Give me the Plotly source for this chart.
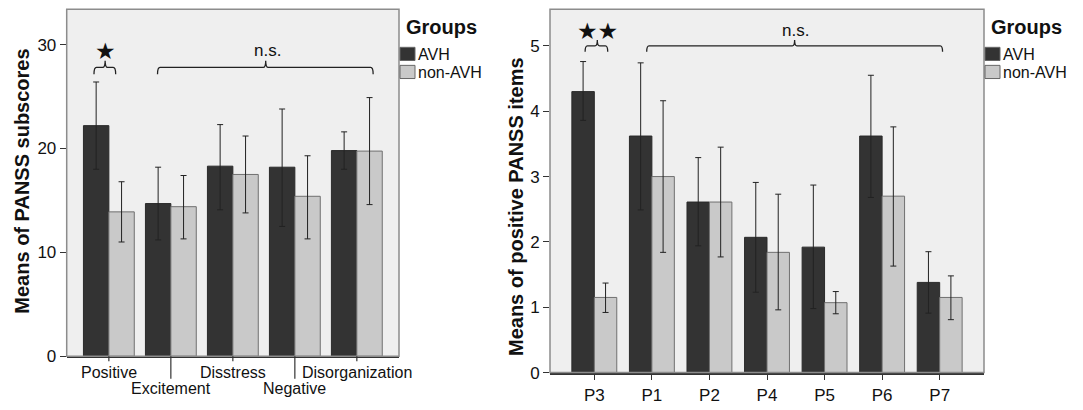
import plotly.graph_objects as go

# ---------------- data ----------------
subscales = ["Positive", "Excitement", "Disstress", "Negative", "Disorganization"]
sub_avh = [22.2, 14.7, 18.3, 18.2, 19.8]
sub_avh_hi = [26.4, 18.2, 22.3, 23.8, 21.6]
sub_avh_lo = [18.0, 11.2, 14.1, 12.5, 18.0]
sub_non = [13.9, 14.4, 17.5, 15.4, 19.75]
sub_non_hi = [16.8, 17.4, 21.2, 19.3, 24.9]
sub_non_lo = [11.0, 11.3, 13.8, 11.3, 14.6]

items = ["P3", "P1", "P2", "P4", "P5", "P6", "P7"]
item_avh = [4.30, 3.62, 2.61, 2.07, 1.92, 3.62, 1.38]
item_avh_hi = [4.76, 4.74, 3.29, 2.91, 2.87, 4.55, 1.85]
item_avh_lo = [3.86, 2.49, 1.94, 1.23, 0.98, 2.68, 0.91]
item_non = [1.15, 3.00, 2.61, 1.84, 1.07, 2.70, 1.15]
item_non_hi = [1.37, 4.16, 3.45, 2.73, 1.24, 3.76, 1.48]
item_non_lo = [0.92, 1.84, 1.77, 0.96, 0.90, 1.63, 0.81]

groups = ["AVH", "non-AVH"]

# ---------------- style ----------------
W, H = 1083, 410
OFF = 8  # page body margin
DARK = "#333333"
LIGHT = "#c9c9c9"
BG = "#efefef"
FRAME = "#8c8c8c"
FONT = "Liberation Sans, Arial, sans-serif"


def px(x):
    return (x - OFF) / W


def py(y):
    return (H - (y - OFF)) / H


fig = go.Figure()


def add_pair(xaxis, yaxis, cats, a, ahi, alo, n, nhi, nlo, width):
    xs = list(range(len(cats)))
    for vals, hi, lo, col, lcol, off, name in [
        (a, ahi, alo, DARK, "#2a2a2a", -width, groups[0]),
        (n, nhi, nlo, LIGHT, "#707070", 0.0, groups[1]),
    ]:
        fig.add_trace(go.Bar(
            x=xs, y=vals, name=name, width=width, offset=off,
            xaxis=xaxis, yaxis=yaxis, showlegend=False,
            marker=dict(color=col, line=dict(color=lcol, width=1)),
            error_y=dict(type="data", symmetric=False,
                         array=[h - v for h, v in zip(hi, vals)],
                         arrayminus=[v - l for v, l in zip(vals, lo)],
                         color="#222222", thickness=1, width=3),
        ))


add_pair("x", "y", subscales, sub_avh, sub_avh_hi, sub_avh_lo,
         sub_non, sub_non_hi, sub_non_lo, 0.41)
add_pair("x2", "y2", items, item_avh, item_avh_hi, item_avh_lo,
         item_non, item_non_hi, item_non_lo, 0.39)

# plot area geometry (page pixels)
L1, R1, T1, B1 = 66.7, 399.0, 9.3, 365.0
L2, R2, T2, B2 = 550.0, 984.0, 9.3, 381.7

tickfont = dict(family=FONT, size=17, color="#111111")
fig.update_layout(
    width=W, height=H,
    margin=dict(l=0, r=0, t=0, b=0),
    paper_bgcolor="white", plot_bgcolor=BG,
    barmode="overlay",
    font=dict(family=FONT, color="#111111"),
    xaxis=dict(domain=[px(L1), px(R1)], range=[-0.68, 4.68], anchor="y",
               tickvals=list(range(len(subscales))), showticklabels=False,
               ticks="", showline=True, linecolor="#333333", linewidth=1.5,
               showgrid=False, zeroline=False, fixedrange=True),
    yaxis=dict(domain=[py(B1), py(T1)], range=[0, 33.4], anchor="x",
               tickvals=[0, 10, 20, 30], ticks="outside", ticklen=6,
               tickcolor="#333333", tickfont=tickfont, showgrid=False,
               zeroline=False, showline=False, fixedrange=True),
    xaxis2=dict(domain=[px(L2), px(R2)], range=[-0.77, 6.77], anchor="y2",
                tickvals=list(range(len(items))), ticktext=items,
                ticks="outside", ticklen=6, tickcolor="#333333",
                tickfont=tickfont, showline=True, linecolor="#333333",
                linewidth=1.5, showgrid=False, zeroline=False, fixedrange=True),
    yaxis2=dict(domain=[py(B2), py(T2)], range=[0, 5.56], anchor="x2",
                tickvals=[0, 1, 2, 3, 4, 5], ticks="outside", ticklen=6,
                tickcolor="#333333", tickfont=tickfont, showgrid=False,
                zeroline=False, showline=False, fixedrange=True),
)

shapes = []
annotations = []

# frames around plot areas
for (l, r, t, b) in [(L1, R1, T1, B1), (L2, R2, T2, B2)]:
    shapes.append(dict(type="rect", xref="paper", yref="paper",
                       x0=px(l), x1=px(r), y0=py(b), y1=py(t),
                       line=dict(color=FRAME, width=1.5), layer="above"))

# left x tick marks + staggered labels
for i, c in enumerate(subscales):
    low = (i % 2 == 1)
    shapes.append(dict(type="line", xref="x", yref="paper", x0=i, x1=i,
                       y0=py(B1), y1=py(388 if low else 370),
                       line=dict(color="#333333", width=1.2)))
    annotations.append(dict(xref="x", yref="paper", x=i,
                            y=py(398.5 if low else 381.5), text=c,
                            showarrow=False, xanchor="center", yanchor="middle",
                            font=dict(family=FONT, size=16, color="#111111")))


def brace(xref, yref, x0, x1, xc, yb, yh, yt, r):
    d = (f"M {x0} {yb} Q {x0} {yh} {x0 + r} {yh} L {xc - r} {yh} "
         f"Q {xc} {yh} {xc} {yt} Q {xc} {yh} {xc + r} {yh} "
         f"L {x1 - r} {yh} Q {x1} {yh} {x1} {yb}")
    return dict(type="path", xref=xref, yref=yref, path=d,
                line=dict(color="#222222", width=1.3))


shapes.append(brace("x", "y", -0.24, 0.11, -0.06, 27.15, 27.8, 28.45, 0.04))
shapes.append(brace("x", "y", 0.785, 4.263, 2.53, 27.15, 27.8, 28.45, 0.04))
shapes.append(brace("x2", "y2", -0.16, 0.233, 0.052, 4.91, 5.0, 5.09, 0.04))
shapes.append(brace("x2", "y2", 0.91, 6.05, 3.48, 4.91, 5.0, 5.09, 0.04))

sig = [("x", "y", -0.05, 29.35, "★"), ("x", "y", 2.56, 29.45, "n.s."),
       ("x2", "y2", 0.047, 5.23, "★★"), ("x2", "y2", 3.5, 5.23, "n.s.")]
for xr, yr, x, y, t in sig:
    star = "★" in t
    annotations.append(dict(xref=xr, yref=yr, x=x, y=y, text=t, showarrow=False,
                            xanchor="center", yanchor="middle",
                            font=dict(family="DejaVu Sans" if star else FONT,
                                      size=23 if star else 17, color="#111111")))

# axis titles
annotations.append(dict(xref="paper", yref="paper", x=px(22), y=py(186),
                        text="<b>Means of PANSS subscores</b>", textangle=-90,
                        showarrow=False, xanchor="center", yanchor="middle",
                        font=dict(family=FONT, size=20, color="#111111")))
annotations.append(dict(xref="paper", yref="paper", x=px(516), y=py(212),
                        text="<b>Means of positive PANSS items</b>", textangle=-90,
                        showarrow=False, xanchor="center", yanchor="middle",
                        font=dict(family=FONT, size=20, color="#111111")))

# legends
for lx in (400, 985):
    annotations.append(dict(xref="paper", yref="paper", x=px(lx + 4), y=py(27),
                            text="<b>Groups</b>", showarrow=False,
                            xanchor="left", yanchor="middle",
                            font=dict(family=FONT, size=20, color="#111111")))
    for k, (g, col) in enumerate(zip(groups, [DARK, LIGHT])):
        y0 = 48.3 + k * 18.5
        shapes.append(dict(type="rect", xref="paper", yref="paper",
                           x0=px(lx), x1=px(lx + 15), y0=py(y0 + 13.5), y1=py(y0),
                           fillcolor=col, line=dict(color="#666666", width=1)))
        annotations.append(dict(xref="paper", yref="paper", x=px(lx + 16),
                                y=py(y0 + 7), text=g, showarrow=False,
                                xanchor="left", yanchor="middle",
                                font=dict(family=FONT, size=16, color="#111111")))

fig.update_layout(shapes=shapes, annotations=annotations)
fig.write_html("out.html")
